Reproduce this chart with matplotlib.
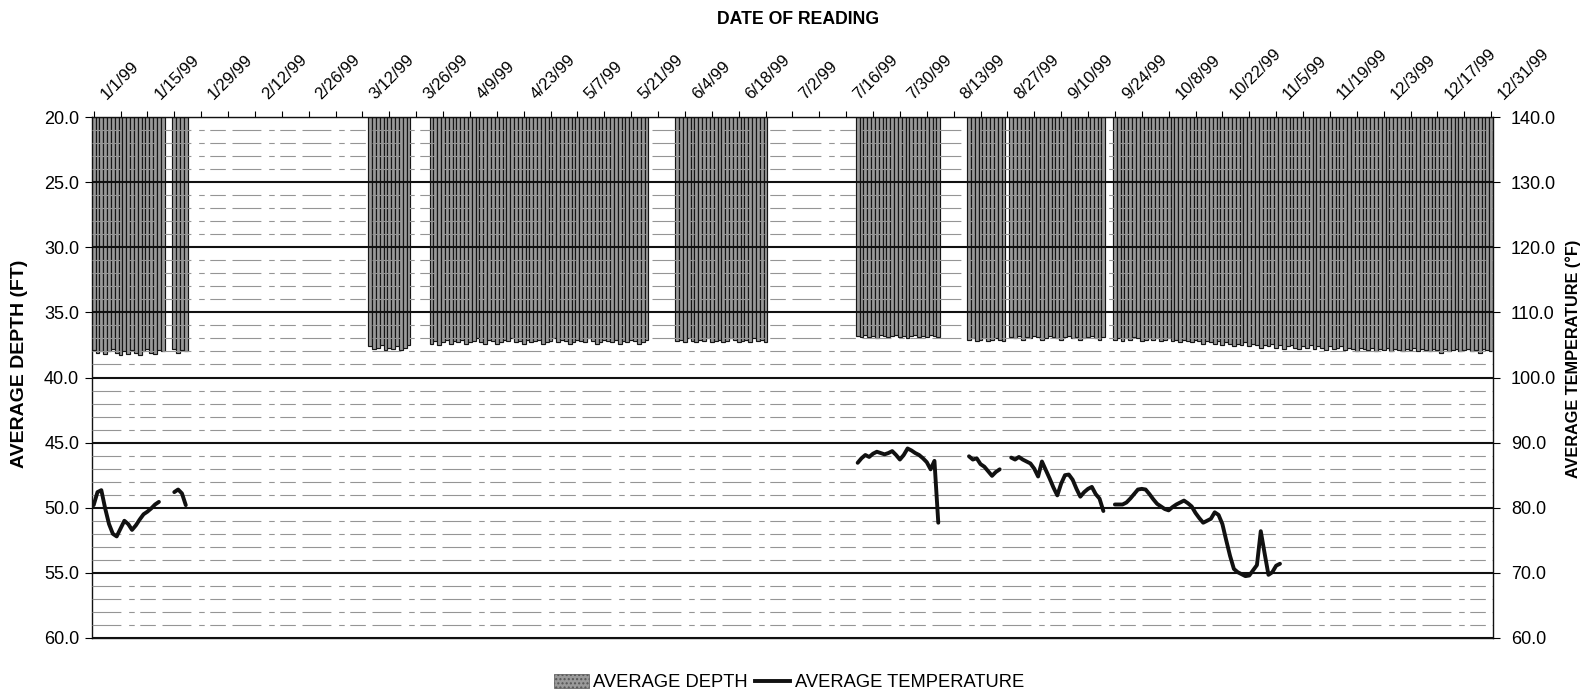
#!/usr/bin/env python3
"""Daily average depth bars with average temperature line, 1999 readings."""

import numpy as np
import matplotlib

matplotlib.use("Agg")
import matplotlib.pyplot as plt  # noqa: E402
import matplotlib.transforms as mtransforms  # noqa: E402
from matplotlib.lines import Line2D  # noqa: E402
from matplotlib.patches import Patch  # noqa: E402
from matplotlib.ticker import FixedLocator, MultipleLocator, NullFormatter  # noqa: E402

plt.rcParams["font.family"] = ["Liberation Sans", "DejaVu Sans"]

# day-of-year index (0 = 1/1/99) where each run of readings starts
run_starts = [0, 21, 72, 88, 152, 199, 228, 239, 266]

# average depth (ft) per day, one list per run of consecutive readings
depth_runs = [
    [37.9, 38.1, 38.0, 38.2, 38.0, 37.8, 38.1, 38.3, 38.0, 38.2, 37.9, 38.1, 38.3, 38.0, 37.8,
     38.1, 38.2, 37.9, 38.0],
    [37.8, 38.1, 37.9, 38.0],
    [37.6, 37.8, 37.7, 37.5, 37.9, 37.7, 37.8, 37.6, 37.9, 37.7, 37.5],
    [37.4, 37.2, 37.5, 37.3, 37.1, 37.4, 37.2, 37.3, 37.1, 37.4, 37.3, 37.2, 37.0, 37.3, 37.4,
     37.1, 37.2, 37.4, 37.3, 37.1, 37.2, 37.0, 37.3, 37.2, 37.4, 37.1, 37.3, 37.2, 37.1, 37.4,
     37.3, 37.2, 37.0, 37.3, 37.1, 37.2, 37.4, 37.3, 37.1, 37.2, 37.3, 37.0, 37.2, 37.4, 37.3,
     37.1, 37.2, 37.3, 37.1, 37.4, 37.2, 37.3, 37.1, 37.2, 37.4, 37.3, 37.1],
    [37.2, 37.1, 37.3, 37.0, 37.2, 37.3, 37.1, 37.2, 37.0, 37.3, 37.2, 37.1, 37.3, 37.2, 37.0,
     37.1, 37.3, 37.2, 37.1, 37.3, 37.0, 37.2, 37.1, 37.3],
    [36.8, 36.9, 36.7, 36.9, 36.8, 37.0, 36.7, 36.8, 36.9, 36.8, 36.7, 36.9, 36.8, 37.0, 36.8,
     36.7, 36.9, 36.8, 36.9, 36.7, 36.8, 36.9],
    [37.1, 37.0, 37.2, 37.1, 37.0, 37.2, 37.1, 37.0, 37.1, 37.2],
    [36.9, 37.0, 36.8, 37.1, 36.9, 37.0, 36.8, 36.9, 37.1, 37.0, 36.8, 36.9, 37.0, 37.1, 36.9,
     36.8, 37.0, 36.9, 37.1, 37.0, 36.9, 36.8, 37.0, 37.1, 36.9],
    [37.1, 37.0, 37.2, 37.0, 37.1, 36.9, 37.0, 37.2, 37.1, 37.0, 37.1, 37.0, 37.2, 37.1, 37.0,
     37.2, 37.1, 37.3, 37.1, 37.2, 37.3, 37.1, 37.2, 37.4, 37.2, 37.3, 37.4, 37.2, 37.5, 37.3,
     37.4, 37.6, 37.4, 37.5, 37.3, 37.6, 37.4, 37.5, 37.7, 37.5, 37.6, 37.4, 37.7, 37.5, 37.8,
     37.6, 37.5, 37.7, 37.8, 37.6, 37.7, 37.5, 37.8, 37.6, 37.7, 37.9, 37.6, 37.8, 37.7, 37.6,
     37.9, 37.7, 37.8, 38.0, 37.7, 37.8, 37.9, 37.7, 38.0, 37.8, 37.9, 37.7, 38.0, 37.8, 37.9,
     38.0, 37.8, 37.9, 37.7, 38.0, 37.8, 37.9, 38.0, 37.8, 37.9, 38.1, 37.8, 38.0, 37.9, 37.8,
     38.0, 37.9, 37.8, 38.0, 37.9, 38.1, 37.8, 37.9, 38.0],
]

# average temperature (deg F): start day and daily values for each drawn stretch
temp_starts = [0, 21, 199, 228, 239, 266]
temp_runs = [
    [80.4, 82.4, 82.7, 79.9, 77.5, 76.0, 75.6, 76.8, 78.0, 77.5, 76.6, 77.3, 78.2, 79.0, 79.4,
     79.9, 80.5, 80.9],
    [82.4, 82.8, 82.2, 80.4],
    [86.9, 87.6, 88.1, 87.8, 88.3, 88.6, 88.4, 88.2, 88.4, 88.7, 88.1, 87.4, 88.1, 89.1, 88.8,
     88.4, 88.1, 87.6, 87.0, 85.9, 87.2, 77.7],
    [87.9, 87.4, 87.6, 86.7, 86.3, 85.6, 84.9, 85.5, 85.9],
    [87.7, 87.4, 87.8, 87.4, 87.1, 86.8, 86.0, 84.8, 87.1, 85.8, 84.5, 83.1, 81.9, 83.7, 85.0,
     85.1, 84.3, 82.9, 81.7, 82.4, 82.9, 83.2, 82.1, 81.4, 79.5],
    [80.5, 80.5, 80.5, 80.8, 81.4, 82.1, 82.8, 82.9, 82.8, 82.1, 81.3, 80.6, 80.2, 79.8, 79.6,
     80.1, 80.5, 80.8, 81.1, 80.7, 80.2, 79.2, 78.4, 77.7, 78.0, 78.3, 79.3, 78.9, 77.5, 75.0,
     72.6, 70.6, 70.1, 69.8, 69.5, 69.6, 70.4, 71.2, 76.4, 73.0, 69.7, 70.1, 71.1, 71.4],
]

date_labels = ["1/1/99", "1/15/99", "1/29/99", "2/12/99", "2/26/99", "3/12/99", "3/26/99",
               "4/9/99", "4/23/99", "5/7/99", "5/21/99", "6/4/99", "6/18/99", "7/2/99",
               "7/16/99", "7/30/99", "8/13/99", "8/27/99", "9/10/99", "9/24/99", "10/8/99",
               "10/22/99", "11/5/99", "11/19/99", "12/3/99", "12/17/99", "12/31/99"]
label_step = 14
tick_step = 7

DEPTH_TOP, DEPTH_BOTTOM = 20.0, 60.0
TEMP_LOW, TEMP_HIGH = 60.0, 140.0


def main() -> int:
    fig = plt.figure(figsize=(15.87, 6.94), dpi=100)
    ax = fig.add_axes([0.0578, 0.0807, 0.8830, 0.7507])

    # bars hang from the top of the axis (20 ft) down to the reading
    for start, run in zip(run_starts, depth_runs):
        days = start + np.arange(len(run))
        vals = np.asarray(run)
        ax.bar(days, vals - DEPTH_TOP, bottom=DEPTH_TOP, width=1.0, color="#999999",
               edgecolor="#161616", linewidth=0.85, zorder=2)

    ax.set_ylim(DEPTH_BOTTOM, DEPTH_TOP)
    ax.set_xlim(-0.5, 364.5)
    ax.yaxis.set_major_locator(MultipleLocator(5))
    ax.yaxis.set_minor_locator(MultipleLocator(1))
    ax.set_yticklabels([f"{v:.1f}" for v in ax.get_yticks()])
    ax.grid(which="major", axis="y", color="#111111", linewidth=1.5, zorder=3)
    ax.grid(which="minor", axis="y", color="#959595", linewidth=0.8,
            linestyle=(0, (26, 7, 5, 5, 14, 6)), zorder=3)
    ax.set_axisbelow(False)

    # date axis along the top; labels drawn as rotated text starting at each tick
    label_days = [i * label_step for i in range(len(date_labels))]
    ax.xaxis.tick_top()
    ax.xaxis.set_major_locator(FixedLocator(label_days))
    ax.xaxis.set_minor_locator(MultipleLocator(tick_step))
    ax.xaxis.set_major_formatter(NullFormatter())
    shift = mtransforms.ScaledTranslation(15 / 100, 15 / 100, fig.dpi_scale_trans)
    for day, text in zip(label_days, date_labels):
        ax.text(day, 1.0, text, transform=ax.get_xaxis_transform() + shift, rotation=45,
                ha="left", va="bottom", rotation_mode="anchor", fontsize=12)
    ax.tick_params(axis="x", which="both", direction="out", length=4, width=0.8)
    ax.tick_params(axis="y", which="major", direction="out", length=5, width=0.8,
                   labelsize=13, pad=4)
    ax.tick_params(axis="y", which="minor", length=0)
    for side in ("top", "bottom", "left", "right"):
        ax.spines[side].set_linewidth(1.0)
        ax.spines[side].set_color("#111111")
    ax.set_ylabel("AVERAGE DEPTH (FT)", fontsize=14, fontweight="bold")
    ax.yaxis.set_label_coords(-0.0455, 0.526)

    # temperature on the right axis
    ax2 = ax.twinx()
    for start, run in zip(temp_starts, temp_runs):
        days = start + np.arange(len(run))
        ax2.plot(days, run, color="#111111", linewidth=2.8, solid_joinstyle="round",
                 solid_capstyle="round", zorder=5)
    ax2.set_ylim(TEMP_LOW, TEMP_HIGH)
    ax2.yaxis.set_major_locator(MultipleLocator(10))
    ax2.set_yticklabels([f"{v:.1f}" for v in ax2.get_yticks()])
    ax2.tick_params(axis="y", direction="out", length=5, width=0.8, labelsize=13, pad=8)
    ax2.set_ylabel("AVERAGE TEMPERATURE (\u00b0F)", fontsize=11.7, fontweight="bold")
    ax2.yaxis.set_label_coords(1.0515, 0.535)
    for side in ("top", "bottom", "left", "right"):
        ax2.spines[side].set_visible(False)

    fig.text(0.503, 0.972, "DATE OF READING", ha="center", va="center", fontsize=12.7,
             fontweight="bold")

    handles = [
        Patch(facecolor="#9a9a9a", edgecolor="#555555", hatch="....", linewidth=0.5),
        Line2D([0], [0], color="#111111", linewidth=2.8),
    ]
    fig.legend(handles, ["AVERAGE DEPTH", "AVERAGE TEMPERATURE"], loc="center",
               bbox_to_anchor=(0.497, 0.016), ncol=2, frameon=False, fontsize=13.2,
               handlelength=1.9, handleheight=0.75, handletextpad=0.25, columnspacing=0.4)

    fig.savefig("out.png", dpi=100)
    plt.close(fig)
    return 0


if __name__ == "__main__":
    raise SystemExit(main())
